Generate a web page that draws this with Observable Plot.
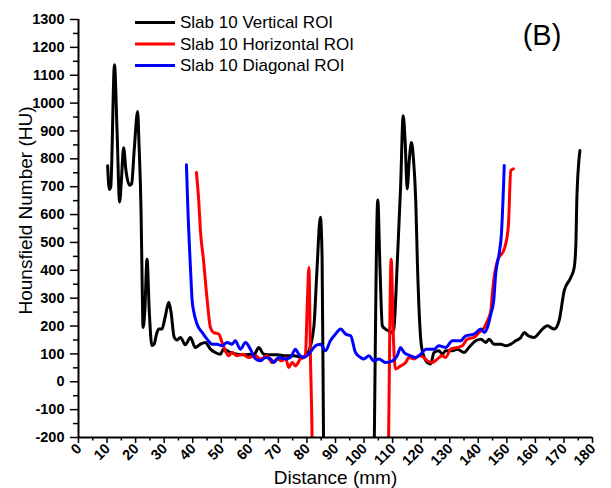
<!DOCTYPE html>
<html><head><meta charset="utf-8">
<script src="https://cdn.jsdelivr.net/npm/d3@7"></script>
<script src="https://cdn.jsdelivr.net/npm/@observablehq/plot@0.6"></script>
<style>body{margin:0;background:#fff;} #chart{position:relative;width:611px;height:488px;}</style>
</head><body><div id="chart"></div>
<script>
const seriesNames = ["Slab 10 Vertical ROI", "Slab 10 Horizontal ROI", "Slab 10 Diagonal ROI"];
const seriesColors = ["#000000", "#ff0000", "#0000ff"];
const panelLabel = "(B)";
const xLabel = "Distance (mm)";
const yLabel = "Hounsfield Number (HU)";

const verticalX = [10.2,10.8,11.3,12.6,13.5,14.4,15.0,15.8,16.6,17.9,18.6,19.5,20.7,21.2,21.9,22.3,22.6,23.2,24.0,24.8,25.7,26.5,27.3,28.1,29.2,30.3,31.6,32.4,33.5,34.5,35.7,37.4,39.2,40.9,42.7,44.4,46.2,47.9,49.7,50.8,53.2,55.5,58.5,60.2,61.4,63.1,64.9,67.2,69.6,72.5,75.4,78.3,80.1,82.4,83.5,84.7,85.3,85.8,86.2,103.2,103.6,104.8,105.6,106.4,107.5,108.5,109.5,110.4,111.6,112.8,113.7,114.4,115.1,115.8,116.6,117.3,118.1,118.7,119.8,120.4,122.2,123.3,124.5,126.2,127.4,128.6,130.9,132.7,135.0,136.7,139.1,140.9,142.6,143.8,145.5,147.9,149.6,151.4,153.1,154.9,156.1,157.5,159.6,161.9,164.2,166.6,168.3,170.1,172.4,173.6,174.2,174.5,175.6];
const verticalY = [775,690,700,1138,900,645,720,840,760,705,710,830,970,850,614,350,195,250,440,250,130,135,170,189,189,230,285,250,160,150,159,133,159,123,135,141,117,105,99,117,105,99,97,99,95,123,99,97,97,93,93,87,99,195,400,590,450,-200,-600,-600,-200,652,400,201,189,183,177,189,420,700,955,860,692,790,859,800,650,420,159,110,69,64,105,111,99,111,111,117,105,123,147,153,141,153,135,135,129,135,147,159,177,165,159,183,201,189,219,327,374,410,500,650,830];

const horizontalX = [41.3,42.1,42.7,43.8,45.0,46.2,47.3,49.1,50.3,51.4,52.6,53.8,55.5,57.3,59.6,62.0,63.7,66.0,67.8,69.6,71.3,72.5,73.6,74.8,76.0,77.7,78.9,79.5,80.1,80.7,81.2,81.8,82.2,108.2,108.6,109.5,110.3,111.0,112.8,114.6,115.7,117.5,119.2,121.0,122.2,123.9,125.7,127.4,128.6,130.3,132.7,134.4,136.2,138.5,140.3,142.1,143.2,144.4,145.0,146.7,149.1,150.5,151.4,152.3];
const horizontalY = [751,650,542,434,300,195,177,171,141,111,93,105,93,99,87,93,82,93,69,82,75,87,51,69,57,82,87,99,275,410,100,-200,-600,-600,-200,440,150,46,57,69,87,82,93,87,75,69,82,93,87,117,123,129,153,159,177,195,219,255,327,434,476,554,758,764];

const diagonalX = [37.8,38.2,39.2,39.8,40.3,41.5,43.3,45.0,46.8,48.5,50.3,52.0,53.8,54.9,56.7,58.5,60.2,62.0,63.7,65.5,67.2,68.4,70.1,72.5,74.2,76.0,77.1,78.9,80.6,83.0,84.7,86.5,88.2,90.0,91.8,93.5,95.3,97.0,98.8,99.9,101.7,103.4,105.2,107.5,109.9,111.6,112.8,114.0,116.3,118.1,120.4,121.6,124.5,126.2,128.6,130.9,133.8,135.6,138.5,140.9,142.1,143.2,144.4,145.4,146.1,147.3,148.1,149.1];
const diagonalY = [779,650,410,291,255,207,177,153,135,135,129,141,135,147,117,141,117,82,75,87,82,69,87,82,87,117,99,87,99,129,135,111,147,171,189,171,165,105,87,82,93,75,82,69,75,93,123,105,93,87,105,117,117,129,123,147,147,165,171,189,177,195,243,291,387,459,530,776];

const xTicks = [0,10,20,30,40,50,60,70,80,90,100,110,120,130,140,150,160,170,180];
const xMinorTicks = [5,15,25,35,45,55,65,75,85,95,105,115,125,135,145,155,165,175];
const yTicks = [-200,-100,0,100,200,300,400,500,600,700,800,900,1000,1100,1200,1300];
const yMinorTicks = [-150,-50,50,150,250,350,450,550,650,750,850,950,1050,1150,1250];

const pts = (xs, ys) => xs.map((d, i) => ({d, v: ys[i]}));
const vertical = pts(verticalX, verticalY);
const horizontal = pts(horizontalX, horizontalY);
const diagonal = pts(diagonalX, diagonalY);

const F = "'Liberation Sans', Arial, sans-serif";
const lineOpts = (c) => ({x: "d", y: "v", stroke: c, strokeWidth: 3, curve: "monotone-x", clip: true, strokeLinejoin: "round"});

const chart = Plot.plot({
  width: 611, height: 488,
  marginLeft: 78, marginRight: 19, marginTop: 19, marginBottom: 51,
  x: {domain: [0, 180], label: null},
  y: {domain: [-200, 1300], label: null},
  style: {fontFamily: F, background: "#fff", overflow: "visible", color: "#000"},
  marks: [
    Plot.line(vertical, lineOpts(seriesColors[0])),
    Plot.line(horizontal, lineOpts(seriesColors[1])),
    Plot.line(diagonal, lineOpts(seriesColors[2])),
    Plot.ruleX([0], {stroke: "#000", strokeWidth: 2}),
    Plot.ruleY([-200], {stroke: "#000", strokeWidth: 2}),
    Plot.axisY(yTicks, {tickSize: 8, tickPadding: 6, tickFormat: d => String(d), fontSize: 14.5, fontWeight: "bold", label: null, strokeWidth: 1.5}),
    Plot.axisY(yMinorTicks, {tickSize: 5, tickFormat: () => "", label: null, strokeWidth: 1.5}),
    Plot.axisX(xTicks, {tickSize: 6, tickFormat: () => "", label: null, strokeWidth: 1.5}),
    Plot.axisX(xMinorTicks, {tickSize: 3.5, tickFormat: () => "", label: null, strokeWidth: 1.5}),
    Plot.text(xTicks, {x: d => d, frameAnchor: "bottom", text: d => String(d), rotate: -45, textAnchor: "end", dx: 4, dy: 12, fontSize: 14.5, fontWeight: "bold"}),
    Plot.text([xLabel], {frameAnchor: "bottom", text: d => d, textAnchor: "middle", dy: 46, lineAnchor: "bottom", fontSize: 19}),
    Plot.text([yLabel], {frameAnchor: "left", text: d => d, textAnchor: "middle", rotate: -90, dx: -46.5, dy: -18, lineAnchor: "bottom", fontSize: 19})
  ]
});
document.getElementById("chart").appendChild(chart);

// legend and panel label drawn inside the SVG
const svg = d3.select(chart);
const lg = svg.append("g").attr("font-family", F).attr("text-anchor", "start");
seriesNames.forEach((name, i) => {
  const by = 28 + i * 21.5;
  lg.append("line").attr("x1", 135).attr("x2", 175).attr("y1", by - 5.6).attr("y2", by - 5.6)
    .attr("stroke", seriesColors[i]).attr("stroke-width", 3);
  lg.append("text").attr("x", 180).attr("y", by).attr("font-size", 17).attr("fill", "#000").text(name);
});
svg.append("text").attr("x", 542).attr("y", 45).attr("text-anchor", "middle")
  .attr("font-family", F).attr("font-size", 29).attr("fill", "#000").text(panelLabel);
</script>
</body></html>
